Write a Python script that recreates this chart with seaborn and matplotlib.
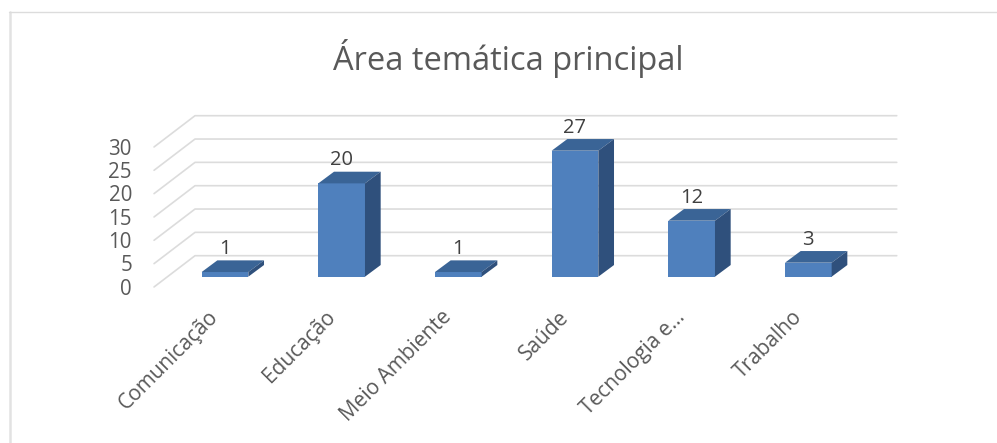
import matplotlib
matplotlib.use('Agg')
import matplotlib.pyplot as plt
from matplotlib.lines import Line2D
from matplotlib.transforms import Affine2D
import pandas as pd
import seaborn as sns

categories = ['Comunicação', 'Educação', 'Meio Ambiente', 'Saúde', 'Tecnologia e…', 'Trabalho']
values = [1, 20, 1, 27, 12, 3]
y_ticks = [0, 5, 10, 15, 20, 25, 30]

sns.set_theme(style='white')
plt.rcParams['font.family'] = ['Open Sans', 'DejaVu Sans']

W, H = 997, 443
FRONT = '#4f80bd'
TOP = '#3a6496'
SIDE = '#2f507c'
GRID = '#dcdcdc'

fig = plt.figure(figsize=(W / 100, H / 100), dpi=100, facecolor='white')
ax = fig.add_axes([166.65 / W, (H - 276.7) / H, 700 / W, 140 / H])

df = pd.DataFrame({'area': categories, 'n': values})
sns.barplot(data=df, x='area', y='n', color=FRONT, saturation=1, width=0.4, ax=ax,
            zorder=3, linewidth=0, edgecolor='none')
ax.set_xlim(-0.5, 5.5)
ax.set_ylim(0, 30)
ax.set_xlabel('')
ax.set_ylabel('')
sns.despine(ax=ax, left=True, bottom=True)

# 3D look, depth in data units
bar_dx, bar_dy = 0.1345, 2.5
wall_dx, wall_dy = 0.243, 4.5
front_dx, front_dy = -0.108, -2.2

for v in y_ticks:
    ax.plot([-0.5 + front_dx, -0.5 + wall_dx, 5.5 + wall_dx + 0.015],
            [v + front_dy, v + wall_dy, v + wall_dy],
            color=GRID, lw=1.2, clip_on=False, zorder=1)

for bar, v in zip(ax.patches, values):
    x0 = bar.get_x()
    x1 = x0 + bar.get_width()
    ax.fill([x0, x1, x1 + bar_dx, x0 + bar_dx], [v, v, v + bar_dy, v + bar_dy],
            color=TOP, lw=0, clip_on=False, zorder=3)
    ax.fill([x1, x1 + bar_dx, x1 + bar_dx, x1], [0, bar_dy, v + bar_dy, v],
            color=SIDE, lw=0, clip_on=False, zorder=3)
    ax.text((x0 + x1) / 2, v + bar_dy + 0.3, str(v), ha='center', va='bottom',
            fontsize=14.5, color='#404040', zorder=4)

ax.set_yticks(y_ticks)
ax.set_yticklabels(y_ticks, fontsize=14.8, color='#595959')
ax.tick_params(axis='y', length=0, pad=25)
for lab in ax.get_yticklabels():
    lab.set_transform(lab.get_transform() + Affine2D().translate(0, -10))

ax.set_xticks(range(len(categories)))
ax.set_xticklabels(categories, fontsize=15, color='#595959', rotation=45,
                   ha='right', va='top', rotation_mode='anchor')
ax.tick_params(axis='x', length=0, pad=28)
for lab in ax.get_xticklabels():
    lab.set_transform(lab.get_transform() + Affine2D().translate(-17, 9))

fig.text(508 / W, 1 - 58 / H, 'Área temática principal', ha='center', va='center',
         fontsize=23.5, color='#595959')

# chart frame, cut by the screenshot on the right and at the bottom
fig.add_artist(Line2D([9.5 / W, 9.5 / W], [0, 1 - 12 / H], color='#e2e2e2', lw=1.8))
fig.add_artist(Line2D([9 / W, 1], [1 - 12 / H, 1 - 12 / H], color='#dcdcdc', lw=1))

fig.savefig('out.png', dpi=100)
